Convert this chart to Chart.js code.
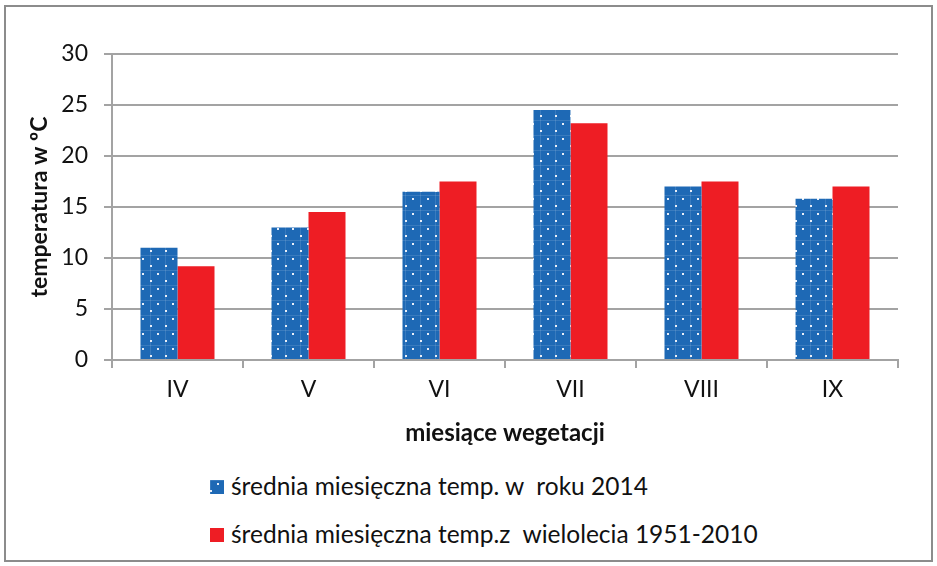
<!DOCTYPE html>
<html>
<head>
<meta charset="utf-8">
<script src="https://cdn.jsdelivr.net/npm/chart.js@4/dist/chart.umd.min.js"></script>
<style>
  html, body { margin: 0; padding: 0; background: #fff; }
  #wrap { position: relative; width: 937px; height: 566px; overflow: hidden; font-family: Lato, 'Open Sans', sans-serif; }
  #frame { position: absolute; left: 4px; top: 5px; width: 925px; height: 553px; border: 2px solid #8c8c8c; }
  #chart { position: absolute; left: 0; top: 0; }
  .legend { position: absolute; left: 210px; color: #111; font-size: 24.5px; white-space: pre; }
  .legend .sw { display: inline-block; width: 14px; height: 14px; margin-right: 7px; vertical-align: 1px; }
</style>
</head>
<body>
<div id="wrap">
  <div id="frame"></div>
  <canvas id="chart" width="937" height="460"></canvas>
  <div class="legend" id="leg1" style="top:471px"><span class="sw" id="sw1"></span>średnia miesięczna temp. w  roku 2014</div>
  <div class="legend" id="leg2" style="top:519px"><span class="sw" id="sw2" style="background:#ee1d24"></span>średnia miesięczna temp.z  wielolecia 1951-2010</div>
</div>
<script>
const months = ['IV', 'V', 'VI', 'VII', 'VIII', 'IX'];
const temp2014 = [11.0, 13.0, 16.5, 24.5, 17.0, 15.8];
const tempLongTerm = [9.2, 14.5, 17.5, 23.2, 17.5, 17.0];
const yTicks = [0, 5, 10, 15, 20, 25, 30];

const BLUE = '#1e69b5';
const RED = '#ee1d24';
const GRID = '#a3a3a3';

// dotted blue fill like the Excel pattern
function dotTile() {
  const c = document.createElement('canvas');
  c.width = 15; c.height = 15;
  const g = c.getContext('2d');
  g.fillStyle = BLUE;
  g.fillRect(0, 0, 15, 15);
  g.fillStyle = 'rgba(255,255,255,0.12)';
  g.fillRect(0, 0, 1, 15);
  g.fillRect(0, 0, 15, 1);
  g.fillStyle = '#e8eef8';
  g.fillRect(7, 3, 2, 2);
  g.fillRect(0, 10, 2, 2);
  return c;
}
const tile = dotTile();
const ctx = document.getElementById('chart').getContext('2d');
const bluePattern = ctx.createPattern(tile, 'repeat');
document.getElementById('sw1').style.background = `url(${tile.toDataURL()}) ${BLUE}`;

new Chart(ctx, {
  type: 'bar',
  data: {
    labels: months,
    datasets: [
      { label: 'średnia miesięczna temp. w  roku 2014', data: temp2014, backgroundColor: bluePattern, borderWidth: 0 },
      { label: 'średnia miesięczna temp.z  wielolecia 1951-2010', data: tempLongTerm, backgroundColor: RED, borderWidth: 0 }
    ]
  },
  options: {
    responsive: false,
    devicePixelRatio: 1,
    animation: false,
    categoryPercentage: 0.565,
    barPercentage: 1.0,
    layout: { padding: { left: 0, top: 54, right: 39, bottom: 0 } },
    plugins: { legend: { display: false }, tooltip: { enabled: false } },
    scales: {
      x: {
        grid: { drawOnChartArea: false, drawTicks: true, tickLength: 8, color: GRID, lineWidth: 2 },
        border: { display: true, color: GRID, width: 2 },
        ticks: { color: '#111', font: { family: 'Lato', size: 23 }, padding: 8 },
        title: { display: true, text: 'miesiące wegetacji', color: '#111', font: { family: 'Lato', size: 24, weight: 'bold' }, padding: { top: 4, bottom: 12 } },
        afterFit: s => { s.height = 100; }
      },
      y: {
        min: 0, max: 30,
        afterBuildTicks: s => { s.ticks = yTicks.map(v => ({ value: v })); },
        grid: { color: GRID, lineWidth: 2, tickLength: 8, drawTicks: true },
        border: { display: true, color: GRID, width: 2 },
        ticks: { color: '#111', font: { family: 'Lato', size: 23 }, padding: 16 },
        title: { display: true, text: 'temperatura w ºC', color: '#111', font: { family: 'Lato', size: 23, weight: 'bold' }, padding: { top: 26 } },
        afterFit: s => { s.width = 112; }
      }
    }
  }
});
</script>
</body>
</html>
